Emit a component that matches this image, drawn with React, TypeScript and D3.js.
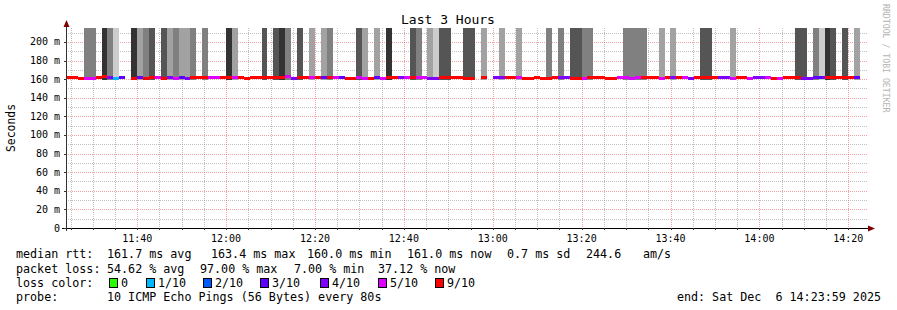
import React from 'react';
import * as d3 from 'd3';

// ---------- data ----------
const startTime = Date.UTC(2025, 11, 6, 11, 23, 59);
const endTime = Date.UTC(2025, 11, 6, 14, 23, 59);
const stepSeconds = 80;
const titleText = 'Last 3 Hours';
const yAxisLabel = 'Seconds';
const watermark = 'RRDTOOL / TOBI OETIKER';

// median rtt per 80 s step (ms); null = no answer
const medianMs: (number | null)[] = [
  161.8, 161.8, 160.6, 161.0, 161.0, 162.0, 162.5, 161.3, 160.5, 161.6,
  null, 160.8, 161.4, 161.2, 161.6, 161.6, 160.8, 161.4, 161.2, 161.6,
  161.0, 161.5, 162.0, 162.3, 161.5, 161.5, 162.3, 161.7, 161.3, 161.5,
  160.9, 161.3, 162.0, 161.7, 161.3, 161.3, 162.3, 162.4, 161.2, 161.5,
  162.0, 161.4, 161.5, 161.5, 161.3, 161.3, 161.9, 161.2, 160.7, 161.3,
  160.7, 160.8, 161.5, 161.2, 161.3, 162.3, 161.6, 161.5, 161.6, 161.6,
  161.3, 161.2, 161.2, 161.6, 161.6, 162.2, 162.2, 161.0, 161.0, null,
  161.3, null, 161.5, 161.5, 161.5, 162.1, 161.5, 161.0, 161.0, 161.3,
  160.8, 160.8, 161.5, 161.3, 162.0, 161.0, 160.3, 160.5, 161.5, 161.5,
  161.5, 161.2, 161.0, 161.5, 161.5, 161.0, 161.5, 161.4, 161.4, 161.4,
  161.0, 161.5, 162.2, 161.5, 161.5, 160.8, 161.6, 161.6, 162.3, 161.5,
  162.2, 161.5, 161.0, 161.5, 161.5, 161.0, 161.5, 161.5, 161.5, 160.6,
  160.5, 161.6, 161.6, 162.3, 160.9, 160.9, 161.3, 161.3, 161.6, 161.3,
  162.2, 161.5, 161.5, 161.3, null,
];

// lost pings out of 10 per step
const lossTenths: number[] = [
  9, 9, 9, 6, 6, 9, 9, 4, 1, 3,
  10, 9, 3, 9, 9, 6, 9, 4, 6, 3,
  4, 9, 9, 9, 6, 6, 9, 9, 6, 9,
  9, 9, 9, 9, 9, 9, 9, 6, 4, 9,
  9, 6, 9, 3, 9, 6, 3, 9, 9, 6,
  6, 9, 3, 6, 9, 9, 4, 6, 9, 6,
  6, 4, 4, 9, 9, 9, 9, 9, 9, 10,
  9, 10, 4, 4, 9, 9, 6, 9, 9, 9,
  9, 9, 9, 4, 4, 9, 9, 6, 9, 9,
  9, 9, 9, 6, 6, 6, 6, 9, 9, 9,
  6, 9, 4, 9, 6, 4, 9, 9, 9, 9,
  4, 4, 6, 9, 9, 6, 4, 4, 6, 9,
  6, 9, 9, 9, 4, 4, 3, 3, 9, 9,
  9, 9, 9, 3, 10,
];

// smoke density per step (0 = no smoke column, 5 = densest)
const smokeDensity: number[] = [
  0, 0, 0, 3, 3, 0, 5, 3, 1, 0,
  0, 5, 2, 3, 4, 0, 4, 2, 3, 2,
  2, 3, 0, 3, 0, 0, 0, 5, 2, 0,
  0, 0, 0, 4, 0, 4, 5, 3, 0, 4,
  0, 2, 0, 2, 3, 0, 0, 0, 0, 4,
  2, 0, 2, 0, 5, 0, 0, 0, 4, 3,
  0, 2, 1, 4, 4, 0, 0, 4, 4, 0,
  2, 0, 0, 2, 0, 0, 2, 0, 0, 0,
  0, 3, 0, 3, 0, 4, 4, 3, 3, 0,
  0, 0, 0, 0, 3, 3, 3, 3, 0, 0,
  2, 0, 2, 0, 0, 0, 0, 4, 4, 0,
  0, 0, 2, 0, 0, 0, 0, 0, 0, 0,
  0, 0, 0, 4, 4, 0, 3, 1, 5, 4,
  0, 4, 0, 2, 0,
];
const smokeLowMs = 159.3;
const smokeHighMs = 230;

const yTicks = [0, 20, 40, 60, 80, 100, 120, 140, 160, 180, 200];
const yMinor = [10, 30, 50, 70, 90, 110, 130, 150, 170, 190, 210];
const yMax = 215;

const lossThresholds = [0, 1, 2, 3, 4, 5, 9];
const lossLabels = ['0', '1/10', '2/10', '3/10', '4/10', '5/10', '9/10'];

const legendRtt = [
  { x: 16, t: 'median rtt:' },
  { x: 107, t: '161.7 ms avg' },
  { x: 211, t: '163.4 ms max' },
  { x: 307, t: '160.0 ms min' },
  { x: 407, t: '161.0 ms now' },
  { x: 507, t: '0.7 ms sd' },
  { x: 586, t: '244.6' },
  { x: 643, t: 'am/s' },
];
const legendLoss = [
  { x: 16, t: 'packet loss:' },
  { x: 107, t: '54.62 % avg' },
  { x: 200, t: '97.00 % max' },
  { x: 294, t: '7.00 % min' },
  { x: 378, t: '37.12 % now' },
];
const legendColorX = [109, 146, 203, 260, 320, 378, 435];
const probeText = '10 ICMP Echo Pings (56 Bytes) every 80s';
const endText = 'end: Sat Dec  6 14:23:59 2025';

// ---------- styles ----------
const lossPalette = ['#26ff00', '#00b8ff', '#0059ff', '#5e00ff', '#7e00ff', '#dd00ff', '#ff0000'];
const smokePalette = ['none', '#cccccc', '#a2a2a2', '#808080', '#555555', '#333333'];
const mono = '"DejaVu Sans Mono", monospace';

function lossColor(l: number): string {
  let idx = 0;
  lossThresholds.forEach((t, i) => {
    if (l >= t) idx = i;
  });
  return lossPalette[idx];
}

export default function App() {
  const W = 897;
  const H = 310;
  const left = 66;
  const right = 866;
  const top = 28;
  const bottom = 228;

  const x = d3
    .scaleUtc()
    .domain([new Date(startTime), new Date(endTime)])
    .range([left, right]);
  const y = d3.scaleLinear().domain([0, yMax]).range([bottom, top]).clamp(true);

  const stepX = (k: number) => x(new Date(startTime + k * stepSeconds * 1000));

  const minorTimes = d3.utcMinute.every(5)!.range(new Date(startTime), new Date(endTime));
  const majorTimes = d3.utcMinute.every(20)!.range(new Date(startTime), new Date(endTime));
  const fmt = d3.utcFormat('%H:%M');

  const minorColor = 'rgba(140,140,140,0.55)';
  const majorColor = 'rgba(235,70,70,0.5)';

  return (
    <svg
      width={W}
      height={H}
      style={{ position: 'absolute', left: 0, top: 0, background: '#ffffff' }}
      xmlns="http://www.w3.org/2000/svg"
    >
      <rect x={0} y={0} width={W} height={H} fill="#ffffff" />

      {/* minor grid */}
      <g shapeRendering="crispEdges">
        {yMinor.map((v) => (
          <line
            key={'ym' + v}
            x1={left}
            x2={right + 2}
            y1={Math.round(y(v)) + 0.5}
            y2={Math.round(y(v)) + 0.5}
            stroke={minorColor}
            strokeDasharray="1,1"
          />
        ))}
        {minorTimes
          .filter((t) => t.getUTCMinutes() % 20 !== 0)
          .map((t) => (
            <line
              key={'xm' + t.getTime()}
              x1={Math.round(x(t)) + 0.5}
              x2={Math.round(x(t)) + 0.5}
              y1={top}
              y2={bottom}
              stroke={minorColor}
              strokeDasharray="1,1"
            />
          ))}
        {yTicks
          .filter((v) => v > 0)
          .map((v) => (
            <line
              key={'yM' + v}
              x1={left}
              x2={right + 2}
              y1={Math.round(y(v)) + 0.5}
              y2={Math.round(y(v)) + 0.5}
              stroke={majorColor}
              strokeDasharray="1,1"
            />
          ))}
        {majorTimes.map((t) => (
          <line
            key={'xM' + t.getTime()}
            x1={Math.round(x(t)) + 0.5}
            x2={Math.round(x(t)) + 0.5}
            y1={top}
            y2={bottom}
            stroke={majorColor}
            strokeDasharray="1,1"
          />
        ))}
      </g>

      {/* smoke */}
      <g shapeRendering="crispEdges">
        {smokeDensity.map((d, k) =>
          d > 0 ? (
            <rect
              key={'s' + k}
              x={stepX(k)}
              width={stepX(k + 1) - stepX(k)}
              y={y(smokeHighMs)}
              height={y(smokeLowMs) - y(smokeHighMs)}
              fill={smokePalette[d]}
            />
          ) : null
        )}
      </g>

      {/* median coloured by loss */}
      <g shapeRendering="crispEdges">
        {medianMs.map((m, k) =>
          m === null ? null : (
            <rect
              key={'m' + k}
              x={stepX(k)}
              width={stepX(k + 1) - stepX(k)}
              y={y(m) - 1.5}
              height={3}
              fill={lossColor(lossTenths[k])}
            />
          )
        )}
      </g>

      {/* axes */}
      <g shapeRendering="crispEdges">
        <line x1={62} x2={869} y1={bottom + 0.5} y2={bottom + 0.5} stroke="#000" />
        <line x1={left + 0.5} x2={left + 0.5} y1={bottom + 3} y2={25} stroke="#333" />
        {minorTimes.map((t) => (
          <line
            key={'tk' + t.getTime()}
            x1={Math.round(x(t)) + 0.5}
            x2={Math.round(x(t)) + 0.5}
            y1={bottom}
            y2={bottom + 2}
            stroke="#333"
          />
        ))}
        {yTicks.map((v) => (
          <line
            key={'ytk' + v}
            x1={left - 2}
            x2={left}
            y1={Math.round(y(v)) + 0.5}
            y2={Math.round(y(v)) + 0.5}
            stroke="#333"
          />
        ))}
      </g>
      <path d={`M${left + 0.5},20 L${left - 2.5},27 L${left + 3.5},27 Z`} fill="#7f0000" />
      <path d={`M875,${bottom + 0.5} L868,${bottom - 2.5} L868,${bottom + 3.5} Z`} fill="#7f0000" />

      {/* y labels */}
      <g fontFamily={mono} fontSize={10} fill="#000">
        {yTicks.map((v) => (
          <text key={'yl' + v} x={60} y={y(v) + 3.5} textAnchor="end" xmlSpace="preserve">
            {v === 0 ? '0' : `${v} m`}
          </text>
        ))}
        {majorTimes.map((t) => (
          <text key={'xl' + t.getTime()} x={x(t)} y={242} textAnchor="middle">
            {fmt(t)}
          </text>
        ))}
      </g>

      {/* title and labels */}
      <text x={448} y={24} textAnchor="middle" fontFamily={mono} fontSize={13} fill="#000">
        {titleText}
      </text>
      <text
        transform={`translate(15, ${(top + bottom) / 2}) rotate(-90)`}
        textAnchor="middle"
        fontFamily={mono}
        fontSize={11.4}
        fill="#000"
      >
        {yAxisLabel}
      </text>
      <text
        transform={`translate(883, 4) rotate(90)`}
        textAnchor="start"
        fontFamily={mono}
        fontSize={8.2}
        fill="#b4b4b4"
      >
        {watermark}
      </text>

      {/* legend */}
      <g fontFamily={mono} fontSize={11.7} fill="#000" style={{ whiteSpace: 'pre' }}>
        {legendRtt.map((s) => (
          <text key={'r' + s.x} x={s.x} y={258}>
            {s.t}
          </text>
        ))}
        {legendLoss.map((s) => (
          <text key={'l' + s.x} x={s.x} y={272.5}>
            {s.t}
          </text>
        ))}
        <text x={16} y={287}>
          loss color:
        </text>
        {lossLabels.map((lab, i) => (
          <g key={'lc' + i}>
            <rect
              x={legendColorX[i] + 0.5}
              y={278.5}
              width={8}
              height={9}
              fill={lossPalette[i]}
              stroke="#000"
              shapeRendering="crispEdges"
            />
            <text x={legendColorX[i] + 12} y={287}>
              {lab}
            </text>
          </g>
        ))}
        <text x={16} y={301}>
          probe:
        </text>
        <text x={107} y={301}>
          {probeText}
        </text>
        <text x={881} y={301} textAnchor="end" xmlSpace="preserve">
          {endText}
        </text>
      </g>
    </svg>
  );
}
